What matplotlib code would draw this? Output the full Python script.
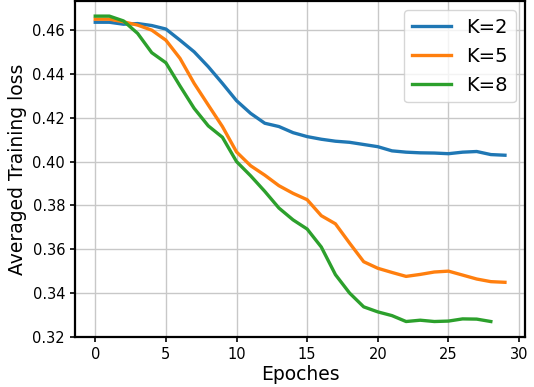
import numpy as np
import matplotlib
matplotlib.use("Agg")
import matplotlib.pyplot as plt

epochs = np.arange(30)

# averaged training loss per epoch
loss_k2 = [0.4636, 0.4636, 0.4627, 0.4630, 0.4621, 0.4605, 0.4554, 0.4501, 0.4433, 0.4357,
           0.4278, 0.4220, 0.4175, 0.4160, 0.4132, 0.4114, 0.4102, 0.4093, 0.4088, 0.4078,
           0.4068, 0.4049, 0.4043, 0.4040, 0.4039, 0.4036, 0.4043, 0.4046, 0.4032, 0.4029]
loss_k5 = [0.4650, 0.4650, 0.4638, 0.4623, 0.4600, 0.4554, 0.4471, 0.4357, 0.4258, 0.4160,
           0.4044, 0.3981, 0.3938, 0.3890, 0.3855, 0.3826, 0.3753, 0.3716, 0.3628, 0.3543,
           0.3513, 0.3494, 0.3476, 0.3485, 0.3496, 0.3500, 0.3482, 0.3464, 0.3452, 0.3449]
loss_k8 = [0.4664, 0.4664, 0.4642, 0.4585, 0.4497, 0.4451, 0.4345, 0.4243, 0.4163, 0.4111,
           0.4000, 0.3935, 0.3864, 0.3788, 0.3734, 0.3692, 0.3610, 0.3484, 0.3400, 0.3337,
           0.3314, 0.3297, 0.3270, 0.3276, 0.3270, 0.3272, 0.3282, 0.3281, 0.3270]

fig = plt.figure(figsize=(5.34, 3.87), dpi=100)
ax = fig.add_subplot(111)
fig.subplots_adjust(left=0.14, right=0.984, top=0.998, bottom=0.129)

ax.plot(epochs, loss_k2, lw=2.4, label="K=2")
ax.plot(epochs, loss_k5, lw=2.4, label="K=5")
ax.plot(epochs[:len(loss_k8)], loss_k8, lw=2.4, label="K=8")

ax.grid(True, color="#c8c8c8", lw=1)
ax.set_xlabel("Epoches", fontsize=13.5, labelpad=2)
ax.set_ylabel("Averaged Training loss", fontsize=13.5)
ax.set_xticks([0, 5, 10, 15, 20, 25, 30])
ax.set_ylim(0.3199, 0.4734)
ax.tick_params(labelsize=10.5, width=1.2)
for s in ax.spines.values():
    s.set_linewidth(1.6)
ax.legend(loc="upper right", fontsize=14)

fig.savefig("out.png", dpi=100)
